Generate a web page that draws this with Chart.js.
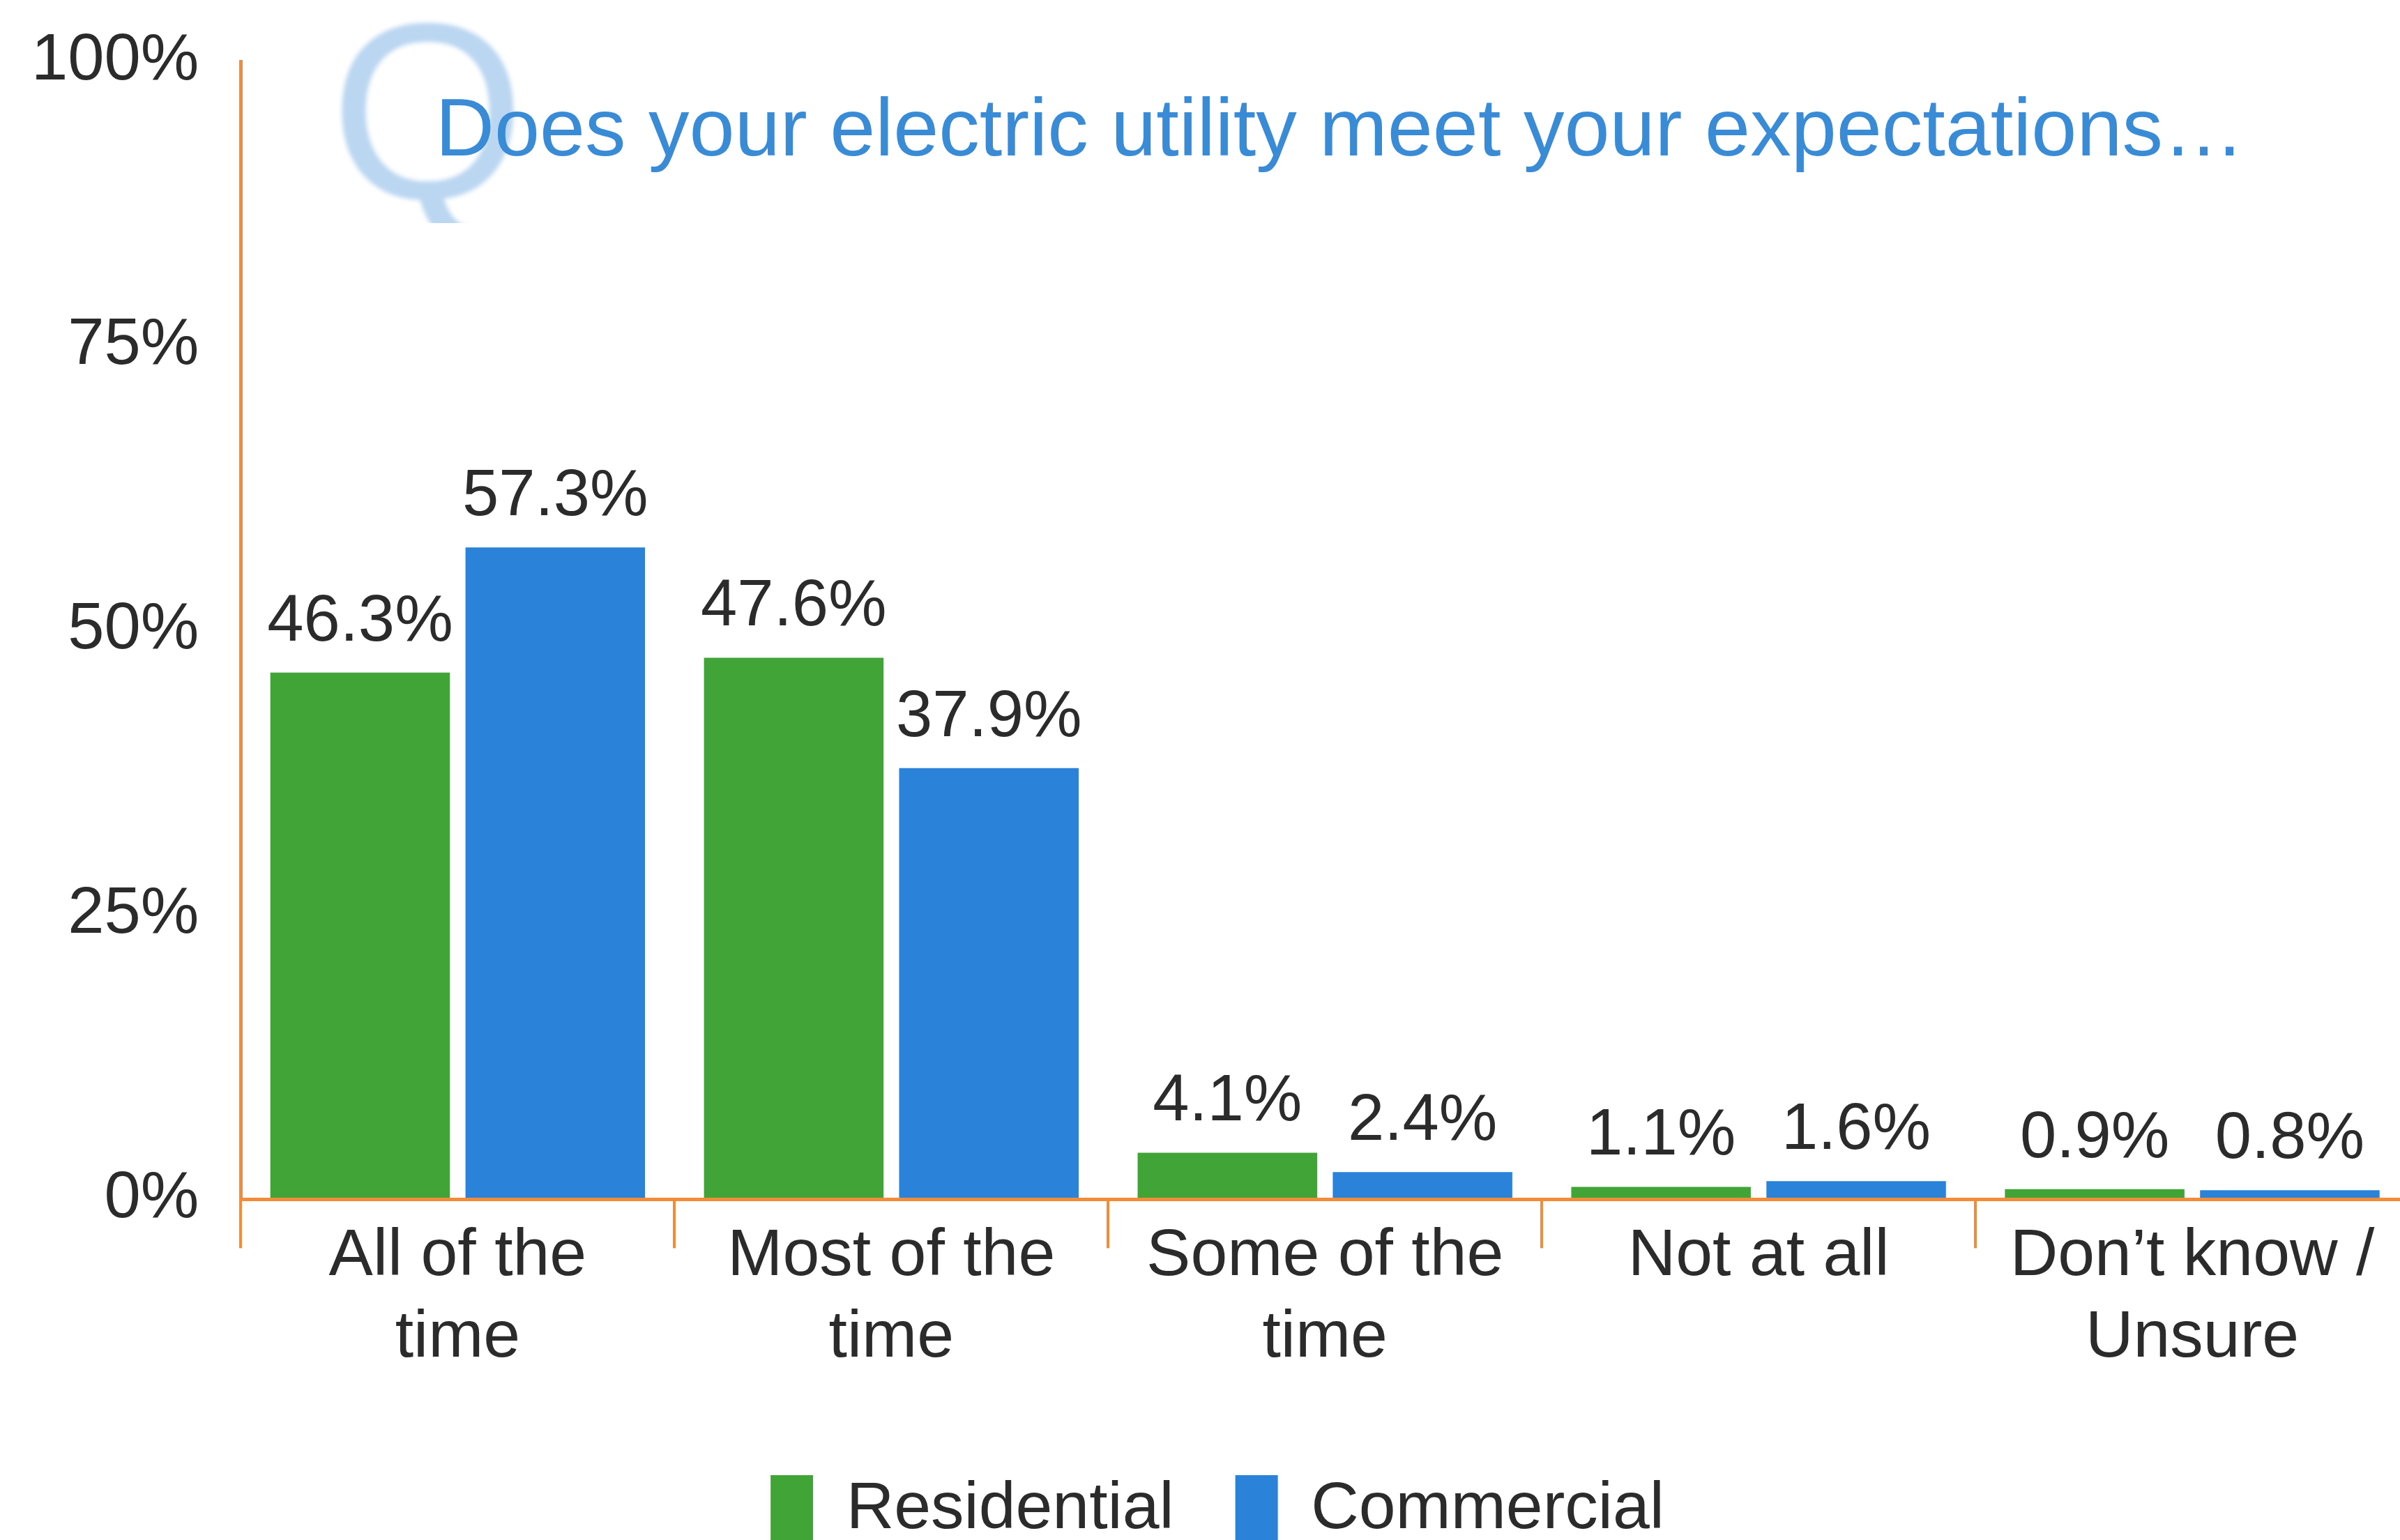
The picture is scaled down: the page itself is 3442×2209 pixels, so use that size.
<!DOCTYPE html>
<html>
<head>
<meta charset="utf-8">
<script src="https://cdn.jsdelivr.net/npm/chart.js@4.4.1/dist/chart.umd.min.js"></script>
<style>
    html, body { margin: 0; padding: 0; background: #fff; overflow: hidden; }
    #wrap { width: 3470px; height: 2290px; position: relative; }
</style>
</head>
<body>
<div id="wrap"><canvas id="expectChart"></canvas></div>
<script>
// Dữ liệu khảo sát
const categories = [
    ['All of the', 'time'],
    ['Most of the', 'time'],
    ['Some of the', 'time'],
    'Not at all',
    ['Don\u2019t know /', 'Unsure']
];
const residential = [46.3, 47.6, 4.1, 1.1, 0.9];
const commercial = [57.3, 37.9, 2.4, 1.6, 0.8];
const yTicks = [0, 25, 50, 75, 100];
const questionText = 'Does your electric utility meet your expectations\u2026';

const FONT = "'Liberation Sans', Arial, sans-serif";
const ORANGE = '#f28c38';
const TEXT = '#2b2b2b';

// Vẽ chữ Q mờ và câu hỏi phía trên
const questionPlugin = {
    id: 'question',
    beforeDatasetsDraw(chart) {
        const ctx = chart.ctx;
        const left = chart.chartArea.left;
        ctx.save();
        ctx.beginPath();
        ctx.rect(0, 0, chart.width, 320);
        ctx.clip();
        ctx.filter = 'blur(3px)';
        ctx.fillStyle = 'rgba(140, 186, 232, 0.6)';
        ctx.font = '360px ' + FONT;
        ctx.textBaseline = 'alphabetic';
        ctx.fillText('Q', left + 128, 284);
        ctx.restore();

        ctx.save();
        ctx.fillStyle = '#3a8bd6';
        ctx.font = '117px ' + FONT;
        ctx.textBaseline = 'alphabetic';
        ctx.fillText(questionText, left + 279, 223);
        ctx.restore();
    }
};

// Nhãn phần trăm trên đầu cột
const valueLabels = {
    id: 'valueLabels',
    afterDatasetsDraw(chart) {
        const ctx = chart.ctx;
        ctx.save();
        ctx.font = '94px ' + FONT;
        ctx.fillStyle = TEXT;
        ctx.textAlign = 'center';
        ctx.textBaseline = 'alphabetic';
        chart.data.datasets.forEach(function (ds, i) {
            chart.getDatasetMeta(i).data.forEach(function (bar, j) {
                ctx.fillText(ds.data[j].toFixed(1) + '%', bar.x, bar.y - 46);
            });
        });
        ctx.restore();
    }
};

// Dịch chú thích sang phải một chút
const legendShift = {
    id: 'legendShift',
    afterLayout(chart) {
        if (chart.legend) {
            chart.legend.left += 26;
            chart.legend.right += 26;
        }
    }
};

const ctx = document.getElementById('expectChart').getContext('2d');
new Chart(ctx, {
    type: 'bar',
    data: {
        labels: categories,
        datasets: [{
            label: 'Residential',
            data: residential,
            backgroundColor: '#41a436'
        }, {
            label: 'Commercial',
            data: commercial,
            backgroundColor: '#2a83d9'
        }]
    },
    options: {
        responsive: true,
        maintainAspectRatio: false,
        devicePixelRatio: 1,
        animation: false,
        categoryPercentage: 0.9,
        barPercentage: 0.92,
        layout: {
            padding: { left: -15, right: 15, top: 88, bottom: 64 }
        },
        scales: {
            x: {
                grid: {
                    display: true,
                    offset: true,
                    drawOnChartArea: false,
                    drawTicks: true,
                    tickLength: 70,
                    color: ORANGE,
                    lineWidth: 4
                },
                border: { display: true, color: ORANGE, width: 5, z: 1 },
                ticks: {
                    padding: -47,
                    color: TEXT,
                    maxRotation: 0,
                    autoSkip: false,
                    font: { family: FONT, size: 95, lineHeight: 1.24 }
                },
                afterFit(scale) {
                    // chừa khoảng trống giữa nhãn trục và chú thích
                    scale.height += 96;
                }
            },
            y: {
                min: 0,
                max: 100,
                afterBuildTicks(scale) {
                    scale.ticks = yTicks.map(v => ({ value: v }));
                },
                grid: { display: false, drawTicks: false },
                border: { display: true, color: ORANGE, width: 5 },
                ticks: {
                    padding: 60,
                    color: TEXT,
                    font: { family: FONT, size: 94, lineHeight: 0.6 },
                    callback: v => v + '%'
                }
            }
        },
        plugins: {
            legend: {
                position: 'bottom',
                labels: {
                    boxWidth: 61,
                    boxHeight: 100,
                    padding: 88,
                    color: TEXT,
                    font: { family: FONT, size: 95 }
                }
            },
            tooltip: { enabled: false }
        }
    },
    plugins: [questionPlugin, valueLabels, legendShift]
});
</script>
</body>
</html>
